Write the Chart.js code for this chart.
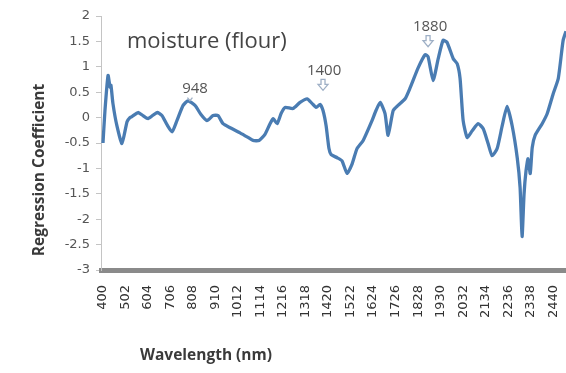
<!DOCTYPE html>
<html>
<head>
<meta charset="utf-8">
<script src="https://cdn.jsdelivr.net/npm/chart.js@4/dist/chart.umd.min.js"></script>
<style>
  html, body { margin: 0; padding: 0; background: #ffffff; }
  #wrap { width: 566px; height: 373px; }
</style>
</head>
<body>
<div id="wrap"><canvas id="c" width="566" height="373"></canvas></div>
<script>
// Wavelength (nm) and PLS regression coefficient for moisture in flour
const wavelengths = [
  400, 409, 423, 432, 436, 445, 463, 486, 509, 522, 531, 559, 581, 604, 645, 667,
  690, 713, 735, 763, 785, 817, 844, 871, 899, 921, 944, 976, 1021, 1057, 1080, 1107,
  1134, 1157, 1171, 1189, 1207, 1225, 1261, 1293, 1325, 1347, 1366, 1384, 1397, 1411,
  1424, 1434, 1461, 1483, 1506, 1529, 1551, 1579, 1619, 1637, 1656, 1678, 1692, 1715,
  1737, 1769, 1792, 1828, 1860, 1873, 1896, 1919, 1941, 1959, 1987, 2005, 2018, 2032,
  2050, 2073, 2100, 2123, 2145, 2163, 2186, 2209, 2231, 2254, 2277, 2290, 2299, 2308,
  2317, 2326, 2336, 2345, 2358, 2390, 2413, 2440, 2463, 2485, 2498
];
const coefficients = [
  -0.50, 0.14, 0.83, 0.60, 0.64, 0.28, -0.16, -0.51, -0.08, 0.00, 0.02, 0.10, 0.04, -0.02, 0.10, 0.04,
  -0.14, -0.28, -0.06, 0.24, 0.33, 0.24, 0.06, -0.06, 0.04, 0.04, -0.12, -0.20, -0.30, -0.39, -0.45, -0.45,
  -0.33, -0.12, -0.02, -0.12, 0.08, 0.20, 0.18, 0.30, 0.37, 0.28, 0.20, 0.26, 0.14, -0.16,
  -0.61, -0.73, -0.79, -0.85, -1.10, -0.91, -0.61, -0.45, -0.06, 0.14, 0.30, 0.08, -0.35, 0.14,
  0.24, 0.37, 0.59, 0.98, 1.24, 1.20, 0.73, 1.16, 1.52, 1.48, 1.16, 1.06, 0.77, -0.06,
  -0.39, -0.26, -0.12, -0.22, -0.51, -0.75, -0.61, -0.16, 0.22, -0.16, -0.79, -1.38, -2.34, -1.50,
  -1.04, -0.81, -1.10, -0.59, -0.35, -0.12, 0.08, 0.47, 0.77, 1.52, 1.70
];

// Category-style tick labels along the wavelength axis
const xTickLabels = [400, 502, 604, 706, 808, 910, 1012, 1114, 1216, 1318, 1420,
  1522, 1624, 1726, 1828, 1930, 2032, 2134, 2236, 2338, 2440];

// Band callouts: label text, wavelength of the arrow, wavelength/level of the text
const calloutLabels = ['948', '1400', '1880'];
const calloutWave = [794, 1397, 1873];
const calloutTextWave = [817, 1402, 1882];
const calloutTextLevel = [0.57, 0.93, 1.79];

const points = wavelengths.map((w, i) => ({ x: w, y: coefficients[i] }));

const decorations = {
  id: 'decorations',
  afterDraw(chart) {
    const ctx = chart.ctx;
    const xs = chart.scales.x, ys = chart.scales.y;
    ctx.save();

    // In-plot title
    ctx.fillStyle = '#444444';
    ctx.font = '22px "Open Sans"';
    ctx.textAlign = 'left';
    ctx.textBaseline = 'middle';
    ctx.fillText('moisture (flour)', 127, 42);

    // Axis titles
    ctx.fillStyle = '#3a3a3a';
    ctx.font = 'bold 15.5px "Open Sans"';
    ctx.textAlign = 'center';
    ctx.fillText('Wavelength (nm)', 206, 356);
    ctx.save();
    ctx.translate(40, 170);
    ctx.rotate(-Math.PI / 2);
    ctx.fillText('Regression Coefficient', 0, 0);
    ctx.restore();

    // Callouts
    calloutLabels.forEach((lab, i) => {
      const tx = xs.getPixelForValue(calloutTextWave[i]);
      const ty = ys.getPixelForValue(calloutTextLevel[i]);
      ctx.fillStyle = '#555555';
      ctx.font = '15px "Open Sans"';
      ctx.textAlign = 'center';
      ctx.textBaseline = 'middle';
      ctx.fillText(lab, tx, ty);

      const ax = xs.getPixelForValue(calloutWave[i]);
      const ay = ty + 9;
      ctx.strokeStyle = '#9fb0c6';
      ctx.lineWidth = 1.3;
      if (i === 0) {
        ctx.beginPath();
        ctx.moveTo(ax - 2.5, ay);
        ctx.lineTo(ax, ay + 3);
        ctx.lineTo(ax + 2.5, ay);
        ctx.stroke();
      } else {
        // hollow down arrow
        ctx.beginPath();
        ctx.moveTo(ax - 2, ay);
        ctx.lineTo(ax + 2, ay);
        ctx.lineTo(ax + 2, ay + 5);
        ctx.lineTo(ax + 5, ay + 5);
        ctx.lineTo(ax, ay + 11);
        ctx.lineTo(ax - 5, ay + 5);
        ctx.lineTo(ax - 2, ay + 5);
        ctx.closePath();
        ctx.stroke();
      }
    });
    ctx.restore();
  }
};

new Chart(document.getElementById('c'), {
  type: 'line',
  data: {
    datasets: [{
      data: points,
      borderColor: '#4a7cb2',
      borderWidth: 3.3,
      pointRadius: 0,
      tension: 0.18,
      fill: false
    }]
  },
  options: {
    responsive: false,
    animation: false,
    devicePixelRatio: 1,
    layout: { padding: { top: 16, right: 0, left: 0, bottom: 0 } },
    plugins: { legend: { display: false }, tooltip: { enabled: false }, title: { display: false } },
    scales: {
      x: {
        type: 'linear',
        min: 391,
        max: 2498,
        afterBuildTicks(scale) { scale.ticks = xTickLabels.map(v => ({ value: v })); },
        afterFit(scale) {
          scale.height = 103;
          scale.paddingLeft = 0;
          scale.paddingRight = 0;
        },
        grid: { display: false, drawTicks: false },
        border: { display: true, color: '#8a8a8a', width: 5 },
        ticks: {
          autoSkip: false,
          minRotation: 90,
          maxRotation: 90,
          padding: 15,
          color: '#333333',
          font: { family: '"DejaVu Sans"', size: 13 },
          callback: (v) => String(v)
        }
      },
      y: {
        min: -3,
        max: 2,
        afterFit(scale) { scale.width = 101; },
        grid: { display: true, drawOnChartArea: false, drawTicks: true, tickLength: 5, color: '#c4c4c4' },
        border: { display: true, color: '#c4c4c4', width: 1 },
        ticks: {
          stepSize: 0.5,
          padding: 6,
          color: '#555555',
          font: { family: '"DejaVu Sans"', size: 13 },
          callback: (v) => String(Math.round(v * 10) / 10)
        }
      }
    }
  },
  plugins: [decorations]
});
</script>
</body>
</html>
